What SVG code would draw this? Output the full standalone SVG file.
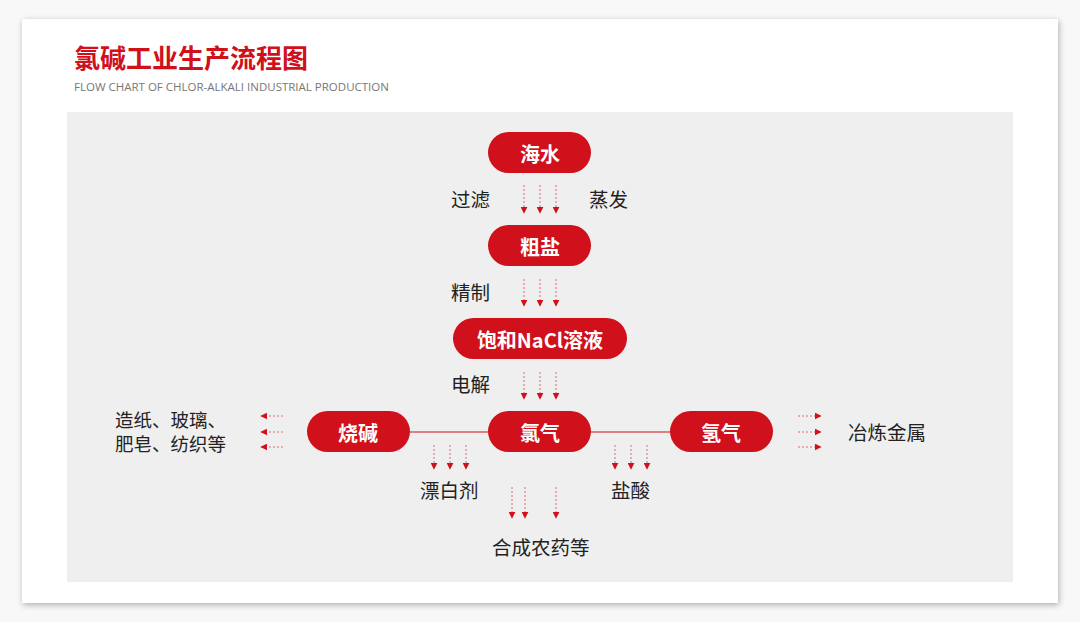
<svg xmlns="http://www.w3.org/2000/svg" width="1080" height="622" viewBox="0 0 1080 622">
<style>
.node rect{fill:#d0101b}
.node text{fill:#fff;font-family:"Noto Sans CJK SC","Liberation Sans",sans-serif;font-weight:bold;font-size:20px;text-anchor:middle;dominant-baseline:central}
.lbl{fill:#222;font-family:"Noto Sans CJK SC","Liberation Sans",sans-serif;font-size:19.5px}
.dl{stroke:#e06a70;stroke-width:1;stroke-dasharray:2 2;fill:none;marker-end:url(#ah)}
.hl{stroke:#d0101b;stroke-width:1.2;fill:none}
</style>
<defs>
<marker id="ah" viewBox="0 0 10 10" refX="9" refY="5" markerWidth="7" markerHeight="7" markerUnits="userSpaceOnUse" orient="auto">
<path d="M0,0 L10,5 L0,10 z" fill="#d0101b"/>
</marker>
<filter id="sh" x="-5%" y="-5%" width="110%" height="110%">
<feGaussianBlur in="SourceAlpha" stdDeviation="3"/>
<feOffset dx="1" dy="2"/>
<feComponentTransfer><feFuncA type="linear" slope="0.3"/></feComponentTransfer>
<feMerge><feMergeNode/><feMergeNode in="SourceGraphic"/></feMerge>
</filter>
</defs>
<rect width="1080" height="622" fill="#f8f8f8"/>
<rect x="22" y="19" width="1036" height="584" fill="#fff" filter="url(#sh)"/>
<rect x="67" y="112" width="946" height="470" fill="#efefef"/>
<text x="74" y="68" font-family="Noto Sans CJK SC,sans-serif" font-weight="bold" font-size="26" fill="#d0101b">氯碱工业生产流程图</text>
<text x="74" y="91" font-family="Open Sans,Liberation Sans,sans-serif" font-size="11.5" fill="#777">FLOW CHART OF CHLOR-ALKALI INDUSTRIAL PRODUCTION</text>

<g id="connectors">
<path class="hl" d="M410,432 H488 M591,432 H670"/>
<path class="dl" d="M524,185 V213"/><path class="dl" d="M540,185 V213"/><path class="dl" d="M556,185 V213"/>
<path class="dl" d="M524,279 V306"/><path class="dl" d="M540,279 V306"/><path class="dl" d="M556,279 V306"/>
<path class="dl" d="M524,372 V399"/><path class="dl" d="M540,372 V399"/><path class="dl" d="M556,372 V399"/>
<path class="dl" d="M283,416 H261"/><path class="dl" d="M283,432 H261"/><path class="dl" d="M283,447 H261"/>
<path class="dl" d="M798,416 H821"/><path class="dl" d="M798,432 H821"/><path class="dl" d="M798,447 H821"/>
<path class="dl" d="M434,445 V469"/><path class="dl" d="M450,445 V469"/><path class="dl" d="M466,445 V469"/>
<path class="dl" d="M615,445 V469"/><path class="dl" d="M631,445 V469"/><path class="dl" d="M647,445 V469"/>
<path class="dl" d="M512,487 V518"/><path class="dl" d="M525,487 V518"/><path class="dl" d="M556,487 V518"/>
</g>

<g id="n-haishui" class="node"><rect x="488" y="132" width="103" height="41" rx="20.5"/><text x="540" y="153">海水</text></g>
<g id="n-cuyan" class="node"><rect x="488" y="225" width="103" height="41" rx="20.5"/><text x="540" y="246">粗盐</text></g>
<g id="n-nacl" class="node"><rect x="453" y="318" width="174" height="41" rx="20.5"/><text x="540" y="339">饱和NaCl溶液</text></g>
<g id="n-lvqi" class="node"><rect x="488" y="411" width="103" height="41" rx="20.5"/><text x="540" y="432">氯气</text></g>
<g id="n-shaojian" class="node"><rect x="307" y="411" width="103" height="41" rx="20.5"/><text x="358" y="432">烧碱</text></g>
<g id="n-qingqi" class="node"><rect x="670" y="411" width="103" height="41" rx="20.5"/><text x="721" y="432">氢气</text></g>

<g id="labels">
<text class="lbl" x="451" y="207">过滤</text>
<text class="lbl" x="589" y="207">蒸发</text>
<text class="lbl" x="451" y="300">精制</text>
<text class="lbl" x="451" y="392">电解</text>
<text class="lbl" x="115" y="427" style="font-size:18.5px">造纸、玻璃、<tspan x="115" dy="24">肥皂、纺织等</tspan></text>
<text class="lbl" x="848" y="440">冶炼金属</text>
<text class="lbl" x="420" y="498">漂白剂</text>
<text class="lbl" x="611" y="498">盐酸</text>
<text class="lbl" x="492" y="555">合成农药等</text>
</g>
</svg>
